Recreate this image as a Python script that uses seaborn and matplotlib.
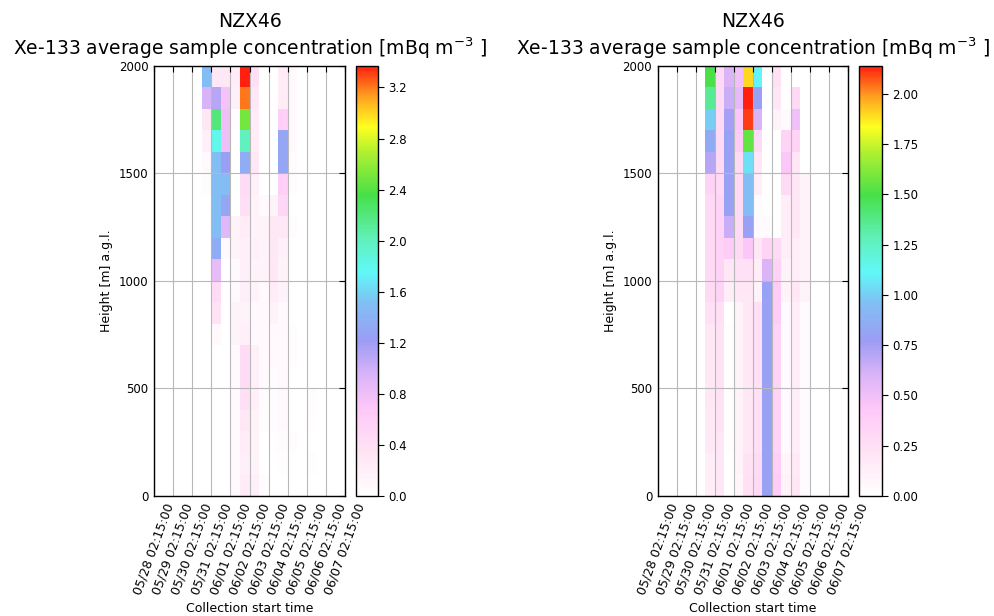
import numpy as np
import pandas as pd
import matplotlib
matplotlib.use('Agg')
import matplotlib.pyplot as plt
from matplotlib.colors import LinearSegmentedColormap
import seaborn as sns

# collection start times (12 h samples), labels every day
days = ['05/28', '05/29', '05/30', '05/31', '06/01', '06/02',
        '06/03', '06/04', '06/05', '06/06', '06/07']
tick_labels = [d + ' 02:15:00' for d in days]
height_ticks = ['2000', '1500', '1000', '500', '0']
heights = list(range(1900, -1, -100))   # bin bottoms, top row first
n_samples = 20

# Xe-133 concentration, rows = height bins (2000 m at top), cols = samples
left_conc = [
    [0, 0, 0, 0, 0, 1.5, .3, .3, .25, 3.37, .4, 0, 0, .25, .1, 0, 0, 0, 0, 0],
    [0, 0, 0, 0, 0, .95, 1.1, .75, .2, 3.2, .3, 0, 0, .25, .1, 0, 0, 0, 0, 0],
    [0, 0, 0, 0, 0, .3, 2.2, .8, .05, 2.5, .25, 0, 0, .6, .1, 0, 0, 0, 0, 0],
    [0, 0, 0, 0, 0, .2, 1.8, .8, 0, 2.0, .25, 0, 0, 1.3, .1, 0, 0, 0, 0, 0],
    [0, 0, 0, 0, 0, .1, 1.5, 1.25, 0, 1.35, .3, 0, 0, 1.3, .05, 0, 0, 0, 0, 0],
    [0, 0, 0, 0, 0, .05, 1.5, 1.5, 0, .45, .2, 0, 0, .6, .05, 0, 0, 0, 0, 0],
    [0, 0, 0, 0, 0, 0, 1.5, 1.3, 0, .4, .15, .1, .15, .5, 0, 0, 0, 0, 0, 0],
    [0, 0, 0, 0, 0, 0, 1.5, .9, .15, .25, .15, .15, .3, .3, .05, 0, 0, 0, 0, 0],
    [0, 0, 0, 0, 0, 0, 1.35, .1, .15, .2, .2, .15, .3, .2, 0, 0, 0, 0, 0, 0],
    [0, 0, 0, 0, 0, 0, .85, 0, .1, .2, .15, .15, .3, .15, 0, 0, 0, 0, 0, 0],
    [0, 0, 0, 0, 0, 0, .45, 0, .1, .2, .15, .1, .25, .15, 0, 0, 0, 0, 0, 0],
    [0, 0, 0, 0, 0, 0, .35, 0, .15, .15, .1, .1, .15, .1, 0, 0, 0, 0, 0, 0],
    [0, 0, 0, 0, 0, 0, .1, 0, .15, .2, .1, .1, .1, .1, .05, 0, 0, 0, 0, 0],
    [0, 0, 0, 0, 0, 0, 0, 0, .1, .45, .2, .1, .1, .1, .05, 0, 0, 0, 0, 0],
    [0, 0, 0, 0, 0, 0, 0, 0, .1, .45, .2, .1, .05, .1, 0, 0, 0, 0, 0, 0],
    [0, 0, 0, 0, 0, 0, 0, 0, .1, .4, .2, .05, .05, .1, 0, 0, .05, 0, 0, 0],
    [0, 0, 0, 0, 0, 0, 0, 0, .1, .3, .15, .05, .05, .1, 0, 0, .03, 0, 0, 0],
    [0, 0, 0, 0, 0, 0, 0, 0, .1, .25, .15, 0, .03, .05, .05, 0, 0, 0, 0, 0],
    [0, 0, 0, 0, 0, 0, 0, 0, .1, .2, .15, 0, 0, .03, 0, 0, .05, 0, 0, 0],
    [0, 0, 0, 0, 0, 0, 0, 0, .1, .25, .2, .05, 0, 0, 0, 0, 0, 0, 0, 0],
]

right_conc = [
    [0, 0, 0, 0, 0, 1.5, .3, .6, .5, 1.9, 1.1, 0, .25, 0, 0, 0, 0, 0, 0, 0],
    [0, 0, 0, 0, 0, 1.35, .3, .65, .55, 2.14, .8, 0, .2, 0, .3, 0, 0, 0, 0, 0],
    [0, 0, 0, 0, 0, 1.0, .3, .75, .45, 2.1, .6, 0, .1, .05, .5, 0, 0, 0, 0, 0],
    [0, 0, 0, 0, 0, .85, .3, .8, .4, 1.55, .3, 0, 0, .35, .35, 0, 0, 0, 0, 0],
    [0, 0, 0, 0, 0, .7, .3, .8, .3, 1.05, .2, 0, 0, .45, .2, 0, 0, 0, 0, 0],
    [0, 0, 0, 0, 0, .35, .3, .8, .3, .95, .15, 0, 0, .3, .2, .1, 0, 0, 0, 0],
    [0, 0, 0, 0, 0, .3, .35, .8, .3, .95, .05, 0, 0, .15, .2, .1, 0, 0, 0, 0],
    [0, 0, 0, 0, 0, .3, .35, .65, .3, .8, .05, .05, 0, .15, .2, .1, 0, 0, 0, 0],
    [0, 0, 0, 0, 0, .3, .35, .4, .3, .45, .2, .35, .3, .15, .15, .1, 0, 0, 0, 0],
    [0, 0, 0, 0, 0, .3, .35, .2, .25, .25, .15, .6, .35, .1, .15, .1, 0, 0, 0, 0],
    [0, 0, 0, 0, 0, .3, .35, .15, .2, .2, .1, .8, .4, .1, .2, .1, 0, 0, 0, 0],
    [0, 0, 0, 0, 0, .25, .25, 0, .1, .2, .25, .8, .4, .05, .15, .05, 0, 0, 0, 0],
    [0, 0, 0, 0, 0, .2, .22, .02, .1, .2, .25, .8, .35, .05, .15, .05, 0, 0, 0, 0],
    [0, 0, 0, 0, 0, .2, .22, .02, .1, .2, .25, .8, .35, .05, .15, .05, 0, 0, 0, 0],
    [0, 0, 0, 0, 0, .2, .22, .02, .1, .2, .25, .8, .35, .05, .15, .05, 0, 0, 0, 0],
    [0, 0, 0, 0, 0, .2, .22, .02, .1, .2, .25, .8, .35, .05, .15, .05, 0, 0, 0, 0],
    [0, 0, 0, 0, 0, .18, .22, .02, .1, .2, .25, .8, .35, .05, .15, .05, 0, 0, 0, 0],
    [0, 0, 0, 0, 0, .18, .2, .02, .1, .2, .25, .8, .35, .05, .15, .05, 0, 0, 0, 0],
    [0, 0, 0, 0, 0, .15, .2, 0, .1, .22, .28, .8, .38, .08, .18, .05, 0, 0, 0, 0],
    [0, 0, 0, 0, 0, .15, .2, 0, .08, .25, .3, .8, .4, .1, .2, .05, 0, 0, 0, 0],
]

# white -> pink -> violet -> blue -> cyan -> green -> yellow -> red
cmap = LinearSegmentedColormap.from_list('xe', [
    (0.00, '#ffffff'), (0.10, '#ffe4f4'), (0.20, '#ffc8f8'),
    (0.28, '#dab4f8'), (0.36, '#9c9cf4'), (0.45, '#80c0f4'),
    (0.52, '#60f8f8'), (0.60, '#60f0b8'), (0.70, '#48e048'),
    (0.80, '#b0f030'), (0.86, '#ffff20'), (0.93, '#ffa020'),
    (1.00, '#ff2010')])

sns.set_style('white')
plt.rcParams['font.family'] = ['DejaVu Sans']
plt.rcParams['text.color'] = 'black'
plt.rcParams['axes.labelcolor'] = 'black'
plt.rcParams['xtick.color'] = 'black'
plt.rcParams['ytick.color'] = 'black'

fig = plt.figure(figsize=(9.95, 6.16), dpi=100)
title = 'NZX46\nXe-133 average sample concentration [mBq m$^{-3}$ ]'

panels = [
    (left_conc, [0.1548, 0.1948, 0.1920, 0.6985], [0.3578, 0.1948, 0.0221, 0.6985],
     np.arange(0, 3.3, 0.4), '%.1f'),
    (right_conc, [0.6610, 0.1948, 0.1913, 0.6985], [0.8633, 0.1948, 0.0231, 0.6985],
     np.arange(0, 2.01, 0.25), '%.2f'),
]

for conc, ax_pos, cax_pos, cticks, cfmt in panels:
    df = pd.DataFrame(conc, index=heights, columns=range(n_samples))
    ax = fig.add_axes(ax_pos)
    cax = fig.add_axes(cax_pos)
    vmax = df.values.max()
    sns.heatmap(df, ax=ax, cmap=cmap, vmin=0, vmax=vmax, cbar_ax=cax,
                xticklabels=False, yticklabels=False,
                cbar_kws={'ticks': cticks, 'format': cfmt})

    ax.set_xticks(range(0, n_samples + 1, 2))
    ax.set_xticklabels(tick_labels, rotation=70, ha='center', fontsize=9)
    ax.set_yticks(range(0, 21, 5))
    ax.set_yticklabels(height_ticks, fontsize=8.5, rotation=0)
    ax.tick_params(direction='in', top=True, right=True, length=4,
                   color='black', pad=4)
    ax.grid(True, color='#b8b8b8', linewidth=0.8)
    ax.set_axisbelow(False)
    # spines above the grid so the frame stays black
    for s in ax.spines.values():
        s.set_visible(True)
        s.set_color('black')
        s.set_linewidth(1.0)
        s.set_zorder(5)
    ax.set_xlabel('Collection start time', fontsize=9)
    ax.set_ylabel('Height [m] a.g.l.', fontsize=9)
    ax.set_title(title, fontsize=13.5, pad=8)

    cax.tick_params(labelsize=8.5, length=4, color='black')
    cb = ax.collections[0].colorbar
    cb.outline.set_visible(True)
    cb.outline.set_edgecolor('black')
    cb.outline.set_linewidth(1.0)

fig.savefig('out.png', dpi=100, facecolor='white')
